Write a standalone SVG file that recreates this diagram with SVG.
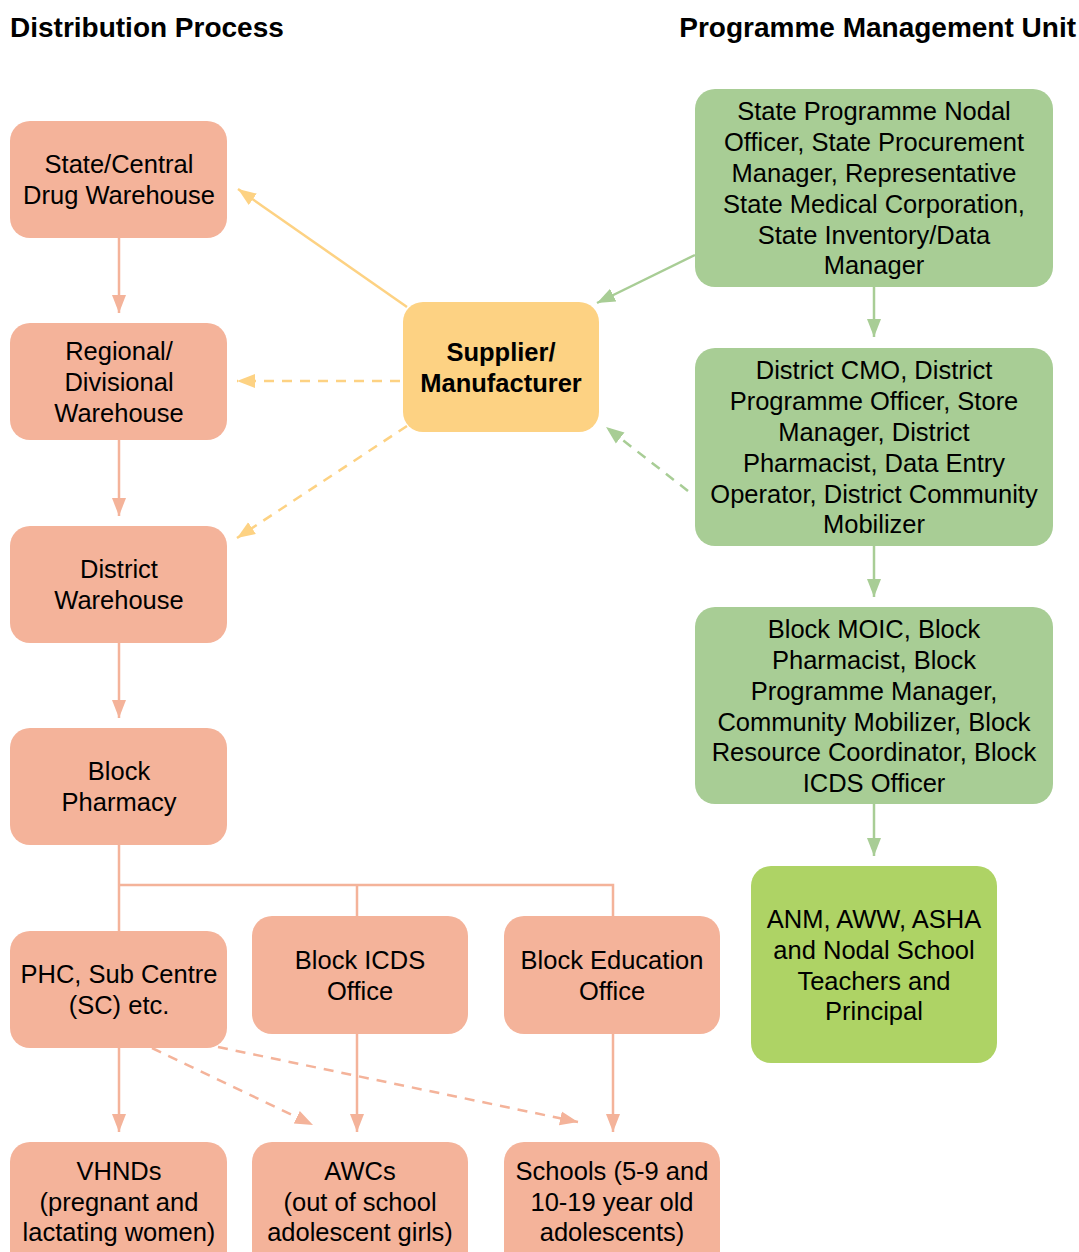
<svg xmlns="http://www.w3.org/2000/svg" width="1079" height="1252" viewBox="0 0 1079 1252">
  <style>
    .t { font-family: "Liberation Sans", Arial, sans-serif; font-size: 25.5px; fill: #000; text-anchor: middle; }
    .b { font-weight: bold; }
    .h { font-family: "Liberation Sans", Arial, sans-serif; font-size: 28px; font-weight: bold; fill: #000; }
    .salmon { fill: #F4B39A; }
    .orange { fill: #FDD283; }
    .green { fill: #A8CD95; }
    .lime { fill: #AED365; }
    .ls { stroke: #F4B39A; stroke-width: 2.5; fill: none; }
    .lo { stroke: #FDD283; stroke-width: 2.5; fill: none; }
    .lg { stroke: #A8CD95; stroke-width: 2.5; fill: none; }
    .dash { stroke-dasharray: 10 8; }
  </style>
  <defs>
    <marker id="aS" markerUnits="userSpaceOnUse" markerWidth="18" markerHeight="16" refX="18" refY="8" orient="auto">
      <path d="M0,1 L18,8 L0,15 z" fill="#F4B39A"/>
    </marker>
    <marker id="aO" markerUnits="userSpaceOnUse" markerWidth="18" markerHeight="16" refX="18" refY="8" orient="auto">
      <path d="M0,1 L18,8 L0,15 z" fill="#FDD283"/>
    </marker>
    <marker id="aG" markerUnits="userSpaceOnUse" markerWidth="18" markerHeight="16" refX="18" refY="8" orient="auto">
      <path d="M0,1 L18,8 L0,15 z" fill="#A8CD95"/>
    </marker>
  </defs>

  <rect width="1079" height="1252" fill="#fff"/>

  <!-- column headings -->
  <text class="h" x="10" y="37">Distribution Process</text>
  <text class="h" x="1076" y="37" text-anchor="end">Programme Management Unit</text>

  <!-- connectors -->
  <g id="connectors">
    <!-- distribution chain -->
    <line class="ls" x1="119" y1="238" x2="119" y2="313" marker-end="url(#aS)"/>
    <line class="ls" x1="119" y1="440" x2="119" y2="516" marker-end="url(#aS)"/>
    <line class="ls" x1="119" y1="643" x2="119" y2="718" marker-end="url(#aS)"/>
    <path class="ls" d="M119,845 V931 M119,885 H613 V916 M357,885 V916"/>
    <line class="ls" x1="119" y1="1048" x2="119" y2="1132" marker-end="url(#aS)"/>
    <line class="ls" x1="357" y1="1034" x2="357" y2="1132" marker-end="url(#aS)"/>
    <line class="ls" x1="613" y1="1034" x2="613" y2="1132" marker-end="url(#aS)"/>
    <line class="ls dash" x1="152" y1="1048" x2="313" y2="1125" marker-end="url(#aS)"/>
    <line class="ls dash" x1="218" y1="1047" x2="578" y2="1122" marker-end="url(#aS)"/>
    <!-- supplier outputs -->
    <line class="lo" x1="407" y1="307" x2="238" y2="189" marker-end="url(#aO)"/>
    <line class="lo dash" x1="400" y1="381" x2="237" y2="381" marker-end="url(#aO)"/>
    <line class="lo dash" x1="407" y1="426" x2="237" y2="538" marker-end="url(#aO)"/>
    <!-- programme management -->
    <line class="lg" x1="695" y1="255" x2="597" y2="303" marker-end="url(#aG)"/>
    <line class="lg dash" x1="688" y1="491" x2="606" y2="427" marker-end="url(#aG)"/>
    <line class="lg" x1="874" y1="287" x2="874" y2="337" marker-end="url(#aG)"/>
    <line class="lg" x1="874" y1="546" x2="874" y2="597" marker-end="url(#aG)"/>
    <line class="lg" x1="874" y1="804" x2="874" y2="856" marker-end="url(#aG)"/>
  </g>

  <!-- distribution nodes -->
  <g id="state-warehouse">
    <rect class="salmon" x="10" y="121" width="217" height="117" rx="20"/>
    <text class="t" x="119" y="173">State/Central</text>
    <text class="t" x="119" y="204">Drug Warehouse</text>
  </g>
  <g id="regional-warehouse">
    <rect class="salmon" x="10" y="323" width="217" height="117" rx="20"/>
    <text class="t" x="119" y="360">Regional/</text>
    <text class="t" x="119" y="391">Divisional</text>
    <text class="t" x="119" y="422">Warehouse</text>
  </g>
  <g id="district-warehouse">
    <rect class="salmon" x="10" y="526" width="217" height="117" rx="20"/>
    <text class="t" x="119" y="578">District</text>
    <text class="t" x="119" y="609">Warehouse</text>
  </g>
  <g id="block-pharmacy">
    <rect class="salmon" x="10" y="728" width="217" height="117" rx="20"/>
    <text class="t" x="119" y="780">Block</text>
    <text class="t" x="119" y="811">Pharmacy</text>
  </g>
  <g id="phc">
    <rect class="salmon" x="10" y="931" width="217" height="117" rx="20"/>
    <text class="t" x="119" y="983">PHC, Sub Centre</text>
    <text class="t" x="119" y="1014">(SC) etc.</text>
  </g>
  <g id="block-icds">
    <rect class="salmon" x="252" y="916" width="216" height="118" rx="20"/>
    <text class="t" x="360" y="969">Block ICDS</text>
    <text class="t" x="360" y="1000">Office</text>
  </g>
  <g id="block-education">
    <rect class="salmon" x="504" y="916" width="216" height="118" rx="20"/>
    <text class="t" x="612" y="969">Block Education</text>
    <text class="t" x="612" y="1000">Office</text>
  </g>
  <g id="vhnds">
    <rect class="salmon" x="10" y="1142" width="217" height="130" rx="20"/>
    <text class="t" x="119" y="1180">VHNDs</text>
    <text class="t" x="119" y="1211">(pregnant and</text>
    <text class="t" x="119" y="1241">lactating women)</text>
  </g>
  <g id="awcs">
    <rect class="salmon" x="252" y="1142" width="216" height="130" rx="20"/>
    <text class="t" x="360" y="1180">AWCs</text>
    <text class="t" x="360" y="1211">(out of school</text>
    <text class="t" x="360" y="1241">adolescent girls)</text>
  </g>
  <g id="schools">
    <rect class="salmon" x="504" y="1142" width="216" height="130" rx="20"/>
    <text class="t" x="612" y="1180">Schools (5-9 and</text>
    <text class="t" x="612" y="1211">10-19 year old</text>
    <text class="t" x="612" y="1241">adolescents)</text>
  </g>

  <!-- supplier -->
  <g id="supplier">
    <rect class="orange" x="403" y="302" width="196" height="130" rx="20"/>
    <text class="t b" x="501" y="361">Supplier/</text>
    <text class="t b" x="501" y="392">Manufacturer</text>
  </g>

  <!-- programme management nodes -->
  <g id="state-pmu">
    <rect class="green" x="695" y="89" width="358" height="198" rx="20"/>
    <text class="t" x="874" y="120">State Programme Nodal</text>
    <text class="t" x="874" y="151">Officer, State Procurement</text>
    <text class="t" x="874" y="182">Manager, Representative</text>
    <text class="t" x="874" y="213">State Medical Corporation,</text>
    <text class="t" x="874" y="244">State Inventory/Data</text>
    <text class="t" x="874" y="274">Manager</text>
  </g>
  <g id="district-pmu">
    <rect class="green" x="695" y="348" width="358" height="198" rx="20"/>
    <text class="t" x="874" y="379">District CMO, District</text>
    <text class="t" x="874" y="410">Programme Officer, Store</text>
    <text class="t" x="874" y="441">Manager, District</text>
    <text class="t" x="874" y="472">Pharmacist, Data Entry</text>
    <text class="t" x="874" y="503">Operator, District Community</text>
    <text class="t" x="874" y="533">Mobilizer</text>
  </g>
  <g id="block-pmu">
    <rect class="green" x="695" y="607" width="358" height="197" rx="20"/>
    <text class="t" x="874" y="638">Block MOIC, Block</text>
    <text class="t" x="874" y="669">Pharmacist, Block</text>
    <text class="t" x="874" y="700">Programme Manager,</text>
    <text class="t" x="874" y="731">Community Mobilizer, Block</text>
    <text class="t" x="874" y="761">Resource Coordinator, Block</text>
    <text class="t" x="874" y="792">ICDS Officer</text>
  </g>
  <g id="frontline">
    <rect class="lime" x="751" y="866" width="246" height="197" rx="20"/>
    <text class="t" x="874" y="928">ANM, AWW, ASHA</text>
    <text class="t" x="874" y="959">and Nodal School</text>
    <text class="t" x="874" y="990">Teachers and</text>
    <text class="t" x="874" y="1020">Principal</text>
  </g>
</svg>
